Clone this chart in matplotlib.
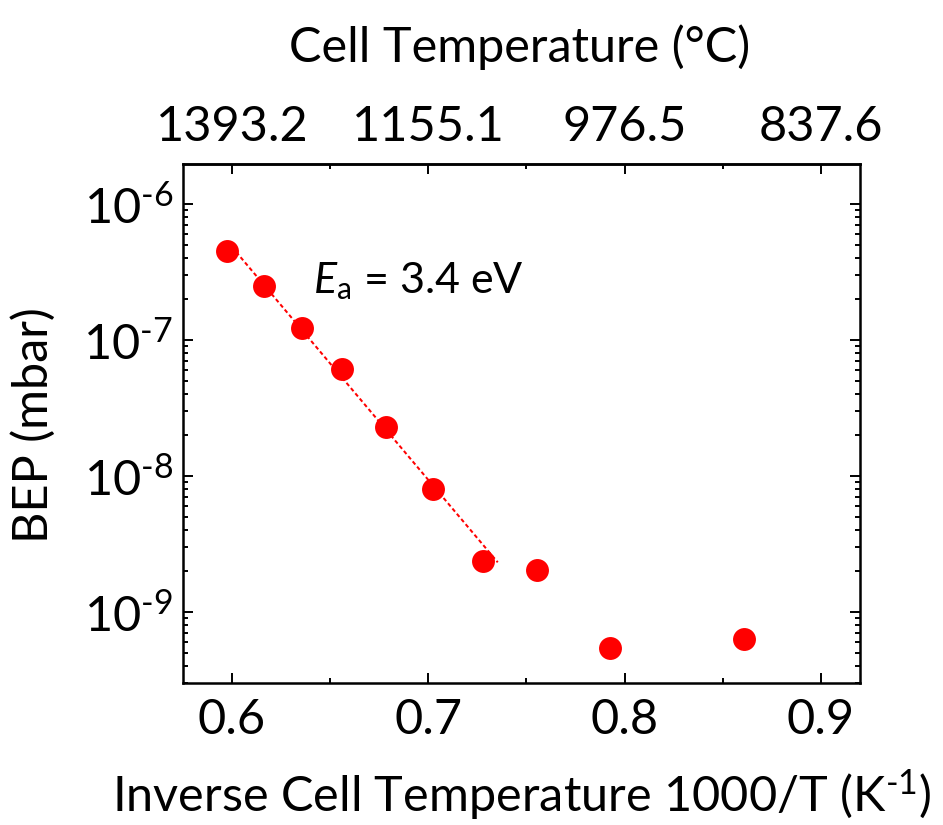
import numpy as np
import matplotlib
matplotlib.use("Agg")
import matplotlib.pyplot as plt
from matplotlib.ticker import (FixedLocator, FixedFormatter, LogLocator,
                               NullFormatter, FuncFormatter)

# Beam equivalent pressure vs. inverse effusion-cell temperature
inv_T = [0.5976, 0.6162, 0.6355, 0.6562, 0.6785, 0.7022, 0.7280, 0.7556, 0.7927, 0.8610]
bep = [4.53e-7, 2.49e-7, 1.22e-7, 6.07e-8, 2.28e-8, 7.96e-9, 2.35e-9, 2.01e-9, 5.37e-10, 6.34e-10]

# Arrhenius fit
Ea = 3.4                 # activation energy, eV
fit_x_range = [0.5976, 0.7354]
fit_anchor_x = 0.6686
fit_anchor_bep = 3.22e-8

# Axis ticks
x_ticks = [0.6, 0.7, 0.8, 0.9]
x_minor_ticks = [0.65, 0.75, 0.85]
top_tick_labels = ["1393.2", "1155.1", "976.5", "837.6"]

plt.rcParams["font.family"] = ["Lato", "DejaVu Sans"]
plt.rcParams["mathtext.fontset"] = "custom"
plt.rcParams["mathtext.rm"] = "Lato"
plt.rcParams["mathtext.it"] = "Lato:italic"
plt.rcParams["mathtext.bf"] = "Lato:bold"

FS = 35
W, H = 943, 825
fig = plt.figure(figsize=(W / 100, H / 100), dpi=100)
L, R, T, B = 183, 860, 164, 683
ax = fig.add_axes([L / W, 1 - B / H, (R - L) / W, (B - T) / H])


def ax_x(px):
    return (px - L) / (R - L)


def ax_y(py):
    return (B - py) / (B - T)


# Arrhenius line: log10(BEP) slope per unit of 1000/T
kB = 8.617333e-5
slope = Ea / (1000 * kB * np.log(10))
fx = np.array(fit_x_range)
fy = 10 ** (np.log10(fit_anchor_bep) - slope * (fx - fit_anchor_x))
ax.plot(fx, fy, color="#ff0000", lw=1.45, dashes=(2, 1.4), zorder=2)

ax.plot(inv_T, bep, "o", color="#ff0000", ms=16.5, mec="none", zorder=3)

ax.set_yscale("log")
ax.set_xlim(0.575, 0.920)
ax.set_ylim(10 ** -9.525, 10 ** -5.705)


def pow10_label(v, pos):
    n = int(round(np.log10(v)))
    exp = f"-{abs(n)}" if n < 0 else f"{n}"
    return f"$10^{{\\text{{{exp}}}}}$"


ax.xaxis.set_major_locator(FixedLocator(x_ticks))
ax.xaxis.set_minor_locator(FixedLocator(x_minor_ticks))
ax.set_xticklabels([f"{v:.1f}" for v in x_ticks])
ax.yaxis.set_major_locator(LogLocator(base=10, numticks=20))
ax.yaxis.set_major_formatter(FuncFormatter(pow10_label))
ax.yaxis.set_minor_locator(LogLocator(base=10, subs=np.arange(2, 10), numticks=20))
ax.yaxis.set_minor_formatter(NullFormatter())

for side in ax.spines.values():
    side.set_linewidth(1.8)

ax.tick_params(which="both", direction="in", top=False, right=True,
               width=1.4, labelsize=FS)
ax.tick_params(which="major", length=7.2)
ax.tick_params(which="minor", length=3.6)
ax.tick_params(axis="x", which="major", pad=11)
ax.tick_params(axis="y", which="major", pad=7)

# Top axis in degrees Celsius
sec = ax.secondary_xaxis("top")
sec.xaxis.set_major_locator(FixedLocator(x_ticks))
sec.xaxis.set_minor_locator(FixedLocator(x_minor_ticks))
sec.xaxis.set_major_formatter(FixedFormatter(top_tick_labels))
sec.tick_params(which="both", direction="in", width=1.4, labelsize=FS)
sec.tick_params(which="major", length=7.2, pad=11)
sec.tick_params(which="minor", length=3.6)
sec.spines["top"].set_linewidth(1.8)

ax.text(ax_x(520), ax_y(62), "Cell Temperature (°C)", transform=ax.transAxes,
        fontsize=FS, ha="center", va="baseline")

ax.set_xlabel("Inverse Cell Temperature 1000/T (K$^{\\text{-1}}$)", fontsize=FS,
              va="baseline")
ax.xaxis.set_label_coords(ax_x(522), ax_y(811))
ax.set_ylabel("BEP (mbar)", fontsize=FS, va="center")
ax.yaxis.set_label_coords(ax_x(33), ax_y(425))

ax.text(ax_x(313), ax_y(293), f"$E_\\mathrm{{a}}$ = {Ea} eV", transform=ax.transAxes,
        fontsize=31, ha="left", va="baseline")

fig.savefig("out.png", dpi=100)
